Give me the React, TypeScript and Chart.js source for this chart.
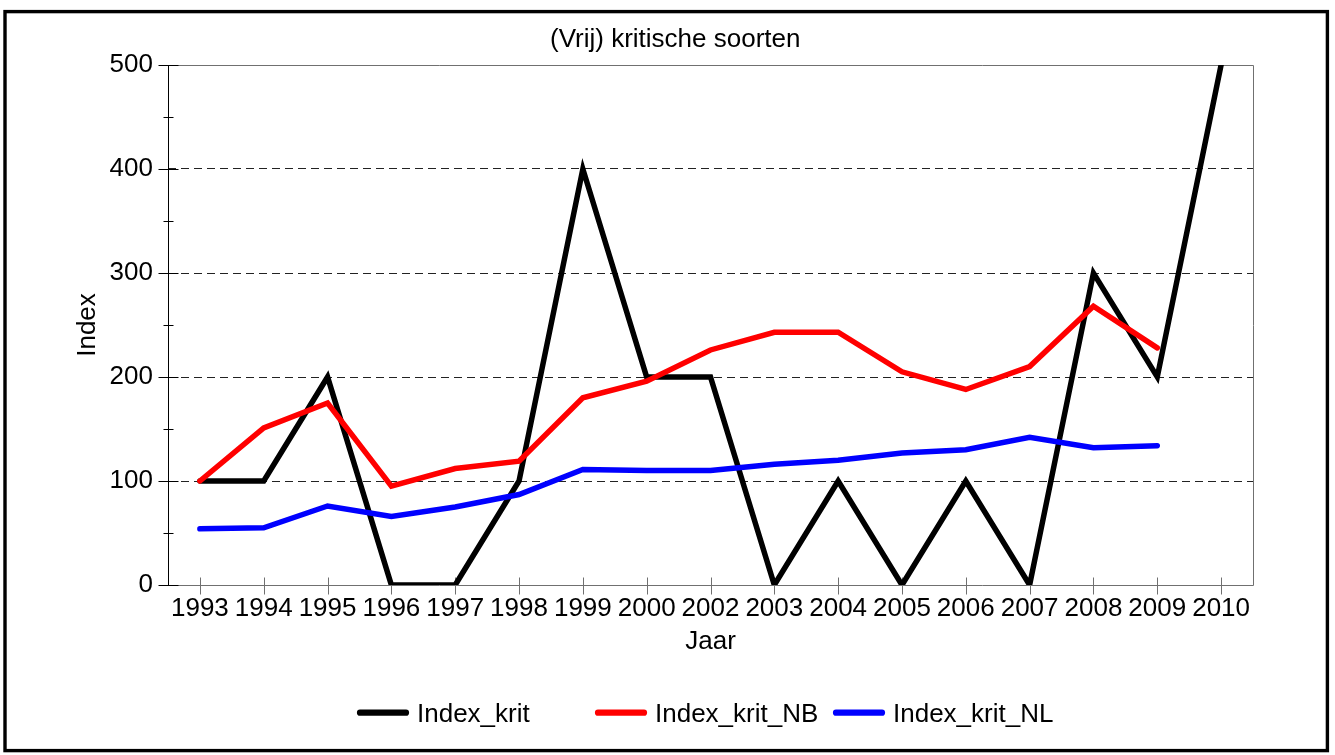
import React, { useEffect, useRef } from 'react';
import { Chart, registerables } from 'chart.js';

Chart.register(...registerables);

const FONT = "'Liberation Sans', Arial, Helvetica, sans-serif";

const chartTitle = '(Vrij) kritische soorten';
const xAxisTitle = 'Jaar';
const yAxisTitle = 'Index';

const years = ['1993', '1994', '1995', '1996', '1997', '1998', '1999', '2000', '2002', '2003', '2004', '2005', '2006', '2007', '2008', '2009', '2010'];

const indexKrit = [100, 100, 200, 0, 0, 100, 400, 200, 200, 0, 100, 0, 100, 0, 300, 200, 500];
const indexKritNB = [100, 151, 175, 95, 112, 119, 180, 196, 226, 243, 243, 205, 188, 210, 268, 228, null];
const indexKritNL = [54, 55, 76, 66, 75, 87, 111, 110, 110, 116, 120, 127, 130, 142, 132, 134, null];

const seriesNames = ['Index_krit', 'Index_krit_NB', 'Index_krit_NL'];
const seriesColors = ['#000000', '#ff0000', '#0000ff'];

const yMin = 0;
const yMax = 500;
const yStep = 100;

const axesPlugin = {
  id: 'axesFrame',
  beforeDatasetsDraw(chart: any) {
    const { ctx, chartArea: a, scales } = chart;
    const xs = scales.x;
    const ys = scales.y;
    ctx.save();
    // gray frame top/right/bottom
    ctx.strokeStyle = '#707070';
    ctx.lineWidth = 1;
    ctx.beginPath();
    const top = Math.round(a.top) + 0.5;
    const bottom = Math.round(a.bottom) + 0.5;
    const right = Math.round(a.right) + 0.5;
    const left = Math.round(a.left) + 0.5;
    ctx.moveTo(left, top);
    ctx.lineTo(right, top);
    ctx.lineTo(right, bottom);
    ctx.lineTo(left, bottom);
    // x ticks crossing the axis
    xs.ticks.forEach((_: any, i: number) => {
      const px = Math.round(xs.getPixelForTick(i)) + 0.5;
      ctx.moveTo(px, bottom - 8);
      ctx.lineTo(px, bottom + 9);
    });
    ctx.stroke();
    // left axis black with major/minor ticks
    ctx.strokeStyle = '#000000';
    ctx.beginPath();
    ctx.moveTo(left, top);
    ctx.lineTo(left, bottom);
    const vals = ys.ticks.map((t: any) => t.value);
    vals.forEach((v: number, i: number) => {
      const py = Math.round(ys.getPixelForValue(v)) + 0.5;
      ctx.moveTo(left - 10, py);
      ctx.lineTo(left + 10, py);
      if (i < vals.length - 1) {
        const mv = (v + vals[i + 1]) / 2;
        const my = Math.round(ys.getPixelForValue(mv)) + 0.5;
        ctx.moveTo(left - 5, my);
        ctx.lineTo(left + 5, my);
      }
    });
    ctx.stroke();
    ctx.restore();
  },
  afterDraw(chart: any) {
    const { ctx } = chart;
    ctx.save();
    // outer frame
    ctx.strokeStyle = '#000000';
    ctx.lineWidth = 3.4;
    ctx.strokeRect(5, 11.6, 1322.4, 739);
    // title
    ctx.fillStyle = '#000000';
    ctx.font = `26px ${FONT}`;
    ctx.textAlign = 'left';
    ctx.textBaseline = 'alphabetic';
    ctx.fillText(chartTitle, 550, 47);
    // legend
    const startX = 357;
    const step = 238;
    const lineY = 712.7;
    chart.data.datasets.forEach((ds: any, i: number) => {
      const x0 = startX + step * i;
      ctx.strokeStyle = ds.borderColor;
      ctx.lineWidth = 6.2;
      ctx.lineCap = 'round';
      ctx.beginPath();
      ctx.moveTo(x0 + 3, lineY);
      ctx.lineTo(x0 + 49, lineY);
      ctx.stroke();
      ctx.fillStyle = '#000000';
      ctx.fillText(ds.label, x0 + 60, 722);
    });
    ctx.restore();
  },
};

export default function App() {
  const canvasRef = useRef<HTMLCanvasElement | null>(null);

  useEffect(() => {
    if (!canvasRef.current) return;
    const mk = (label: string, data: (number | null)[], color: string, order: number) => ({
      label,
      data,
      borderColor: color,
      backgroundColor: color,
      borderWidth: 5.5,
      pointRadius: 0,
      pointHoverRadius: 0,
      tension: 0,
      fill: false,
      spanGaps: false,
      borderCapStyle: 'round' as const,
      borderJoinStyle: 'miter' as const,
      order,
    });
    const chart = new Chart(canvasRef.current, {
      type: 'line',
      data: {
        labels: years,
        datasets: [
          mk(seriesNames[0], indexKrit, seriesColors[0], 3),
          mk(seriesNames[1], indexKritNB, seriesColors[1], 2),
          mk(seriesNames[2], indexKritNL, seriesColors[2], 1),
        ],
      },
      options: {
        responsive: false,
        animation: false,
        events: [],
        layout: { padding: { left: 0, top: 65, right: 82, bottom: 98 } },
        plugins: {
          legend: { display: false },
          title: { display: false },
          tooltip: { enabled: false },
        },
        scales: {
          x: {
            type: 'category',
            offset: true,
            grid: { display: false, drawTicks: false },
            border: { display: false },
            ticks: {
              color: '#000000',
              font: { family: FONT, size: 26 },
              padding: 8,
              autoSkip: false,
              maxRotation: 0,
              minRotation: 0,
            },
            title: {
              display: true,
              text: xAxisTitle,
              color: '#000000',
              font: { family: FONT, size: 26 },
              padding: { top: 0, bottom: 0 },
            },
            afterFit: (scale: any) => {
              scale.height = 72;
            },
          },
          y: {
            type: 'linear',
            min: yMin,
            max: yMax,
            grid: {
              display: true,
              drawTicks: false,
              lineWidth: 1,
              color: (c: any) =>
                c.tick && (c.tick.value === yMin || c.tick.value === yMax) ? 'rgba(0,0,0,0)' : '#222222',
            },
            border: { display: false, dash: [8, 5] },
            ticks: {
              stepSize: yStep,
              color: '#000000',
              font: { family: FONT, size: 26 },
              padding: 15,
            },
            title: {
              display: true,
              text: yAxisTitle,
              color: '#000000',
              font: { family: FONT, size: 26 },
              padding: { top: 72.4, bottom: 0 },
            },
            afterFit: (scale: any) => {
              scale.width = 168;
            },
          },
        },
      },
      plugins: [axesPlugin],
    } as any);
    return () => chart.destroy();
  }, []);

  return (
    <div style={{ position: 'absolute', left: 0, top: 0, width: 1335, height: 755, background: '#ffffff' }}>
      <canvas ref={canvasRef} width={1335} height={755} style={{ display: 'block' }} />
    </div>
  );
}
